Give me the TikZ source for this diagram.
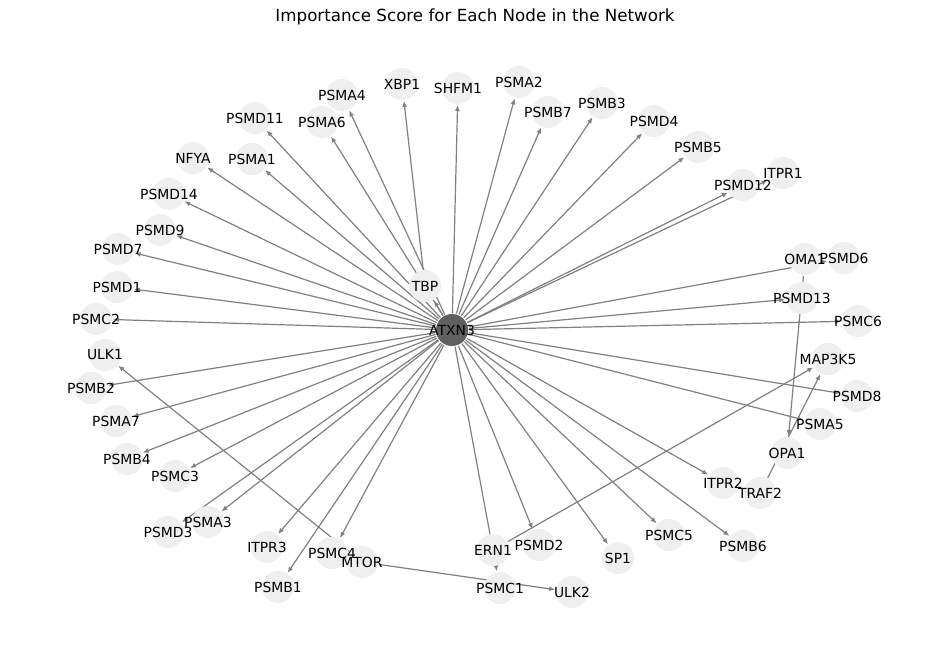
\documentclass[tikz,border=0pt]{standalone}
\usepackage{fontspec}
\setmainfont{DejaVu Sans}
\usetikzlibrary{arrows.meta}
\pgfdeclarelayer{edges}
\pgfsetlayers{edges,main}
\definecolor{nodefill}{RGB}{239,239,239}
\definecolor{hubfill}{RGB}{96,96,96}
\definecolor{edgecol}{RGB}{128,128,128}
\tikzset{
  vtx/.style={circle, minimum size=32pt, inner sep=0pt, outer sep=1pt, fill=nodefill, draw=none},
  hub/.style={vtx, fill=hubfill},
  lbl/.style={font=\fontsize{13.9}{16}\selectfont, inner sep=0pt, text=black},
  edge/.style={draw=edgecol, line width=1.2pt, -{Latex[length=6pt,width=5pt]}},
}
\def\nodelist{TBP/425/286, XBP1/402/84, SHFM1/458/88, PSMA2/519/82, PSMB7/548/112,
PSMB3/602/103, PSMD4/654/121, PSMB5/698/147, ITPR1/783/173, PSMD12/743/185,
OMA1/805/259, PSMD6/844/258, PSMD13/802/298, PSMC6/858/321, MAP3K5/828/359,
PSMD8/857/396, PSMA5/820/424, OPA1/787/453, TRAF2/760/493, ITPR2/723/483,
PSMB6/743/546, PSMC5/669/535, SP1/618/558, PSMD2/539/545, ERN1/493/550,
PSMC1/500/588, ULK2/572/592, MTOR/362/562, PSMC4/332/553, ITPR3/267/547,
PSMB1/278/587, PSMA3/208/522, PSMD3/168/532, PSMC3/175/476, PSMB4/127/459,
PSMA7/116/421, PSMB2/91/388, ULK1/105/355, PSMC2/96/319, PSMD1/117/287,
PSMD7/118/249, PSMD9/160/230, PSMD14/169/194, NFYA/193/158, PSMA1/252/159,
PSMD11/255/118, PSMA6/322/122, PSMA4/342/95}
\def\hubtargets{TBP, PSMA4, PSMD11, PSMA6, PSMA1, NFYA, PSMD14, PSMD9, PSMD7, PSMD1,
PSMC2, PSMB2, PSMA7, PSMB4, PSMC3, PSMD3, PSMA3, ITPR3, PSMB1, PSMC4, PSMC1, PSMD2,
SP1, PSMC5, PSMB6, ITPR2, PSMA5, PSMD8, PSMC6, PSMD13, PSMD6, PSMD12, ITPR1, PSMB5,
PSMD4, PSMB3, PSMB7, PSMA2, SHFM1}
\begin{document}
\begin{tikzpicture}[x=1pt,y=-1pt]
\useasboundingbox (0,0) rectangle (950,656);
\node[font=\fontsize{16.7}{20}\selectfont, inner sep=0pt] (title) at (475,17) {Importance Score for Each Node in the Network};
% node circles
\node[hub] (ATXN3) at (452,330) {};
\foreach \n/\x/\y in \nodelist {
  \node[vtx] (\n) at (\x,\y) {};
}
% edges (below the circles)
\begin{pgfonlayer}{edges}
\foreach \t in \hubtargets {
  \draw[edge] (ATXN3) -- (\t);
}
\draw[edge] (TBP) -- (XBP1);
\draw[edge] (MTOR) -- (ULK1);
\draw[edge] (MTOR) -- (ULK2);
\draw[edge] (ERN1) -- (MAP3K5);
\draw[edge] (TRAF2) -- (MAP3K5);
\draw[edge] (OMA1) -- (OPA1);
\end{pgfonlayer}
% labels on top
\node[lbl] (lATXN3) at (ATXN3) {ATXN3};
\foreach \n/\x/\y in \nodelist {
  \node[lbl] (l\n) at (\n) {\n};
}
\end{tikzpicture}
\end{document}
